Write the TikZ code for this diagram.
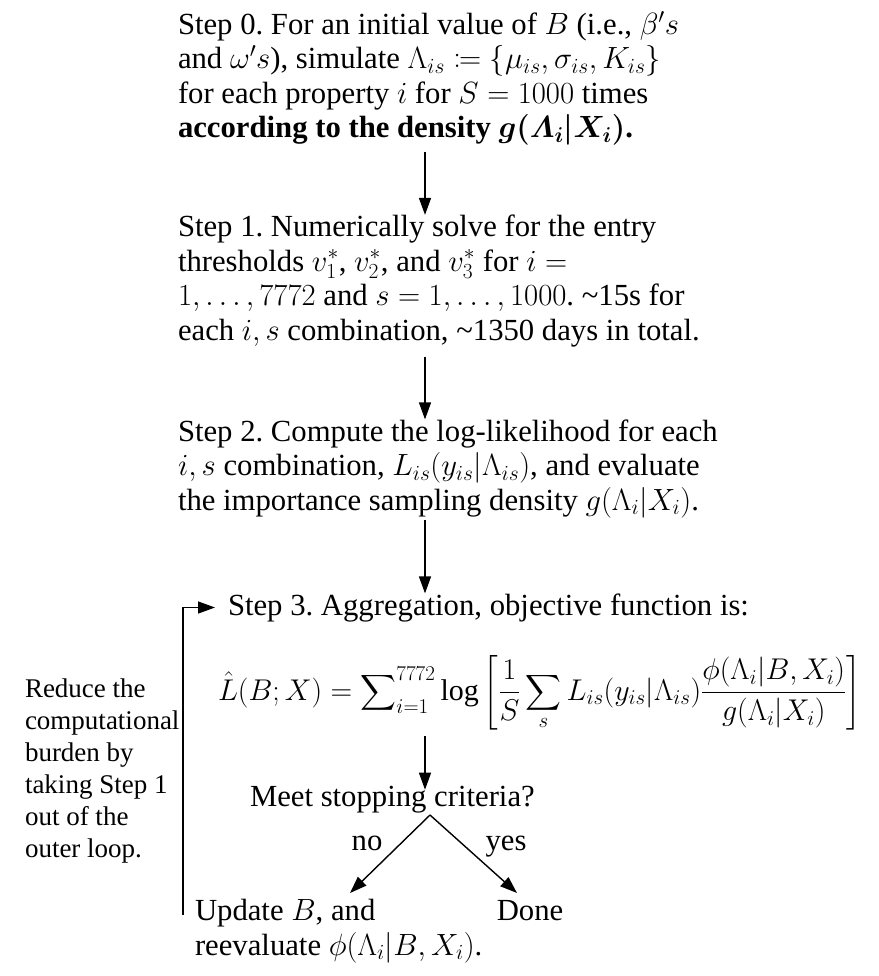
\RequirePackage{fix-cm}
\documentclass[tikz,border=0pt]{standalone}
\usepackage{mathtools}
\usepackage{fontspec}
\setmainfont{Liberation Serif}
\usetikzlibrary{arrows.meta,calc}
\frenchspacing
\begin{document}
\begin{tikzpicture}[x=1pt,y=-1pt,
  txt/.style={inner sep=0pt, outer sep=0pt, align=left, anchor=base west, font=\fontsize{30.7}{34.5}\selectfont},
  lbl/.style={inner sep=0pt, outer sep=0pt, anchor=base, font=\fontsize{30.7}{34.5}\selectfont},
  arr/.style={line width=1.4pt, -{Triangle[length=17pt,width=12pt]}},
  ln/.style={line width=1.4pt}]
\useasboundingbox (0,0) rectangle (878,976);

\node[txt] (s0) at (178,138) {Step 0. For an initial value of $B$ (i.e., $\beta's$\\
and $\omega's$), simulate $\Lambda_{is}\coloneqq\{\mu_{is},\sigma_{is},K_{is}\}$\\
for each property $i$ for $S=1000$ times\\
{\bfseries\boldmath according to the density $g(\varLambda_i|X_i)$.}};

\node[txt] (s1) at (178,340) {Step 1. Numerically solve for the entry\\
thresholds $v_1^*$, $v_2^*$, and $v_3^*$ for $i=$\\
$1,\ldots,7772$ and $s=1,\ldots,1000$. \textasciitilde15s for\\
each $i,s$ combination, \textasciitilde1350 days in total.};

\node[txt] (s2) at (178,510) {Step 2. Compute the log-likelihood for each\\
$i,s$ combination, $L_{is}(y_{is}|\Lambda_{is})$, and evaluate\\
the importance sampling density $g(\Lambda_i|X_i)$.};

\node[txt] (s3) at (228,615) {Step 3. Aggregation, objective function is:};

\node[txt, font=\fontsize{30}{34.5}\selectfont] (obj) at (218,700) {$\displaystyle \hat{L}(B;X) = \sum\nolimits_{i=1}^{7772}\log\left[\frac{1}{S}\sum_{s} L_{is}(y_{is}|\Lambda_{is})\frac{\phi(\Lambda_i|B,X_i)}{g(\Lambda_i|X_i)}\right]$};

\node[txt, font=\fontsize{27}{32}\selectfont] (note) at (25,857) {Reduce the\\computational\\burden by\\taking Step 1\\out of the\\outer loop.};

\node[txt] (meet) at (250,806) {Meet stopping criteria?};
\node[lbl] (no) at (367,850) {no};
\node[lbl] (yes) at (506,850) {yes};
\node[txt, font=\fontsize{30.7}{35}\selectfont] (upd) at (195,955) {Update $B$, and\\reevaluate $\phi(\Lambda_i|B,X_i)$.};
\node[lbl] (done) at (530,920) {Done};

\coordinate (ax) at (425,0);
\coordinate (apex) at (430,815);
\coordinate (tipL) at (350,893);
\coordinate (tipR) at (517,893);

\draw[arr, shorten <=6pt] (s0.south -| ax) -- (s1.north -| ax);
\draw[arr, shorten <=10pt] (s1.south -| ax) -- (s2.north -| ax);
\draw[arr, shorten <=2pt] (s2.south -| ax) -- (s3.north -| ax);
\draw[arr, shorten <=6pt, shorten >=-4pt] (obj.south -| ax) -- (meet.north -| ax);
\draw[arr] (apex) -- (tipL);
\draw[arr] (apex) -- (tipR);
\draw[arr, shorten >=13pt] ($(upd.north west)+(-12,16)$) |- (s3.west);
\end{tikzpicture}
\end{document}
